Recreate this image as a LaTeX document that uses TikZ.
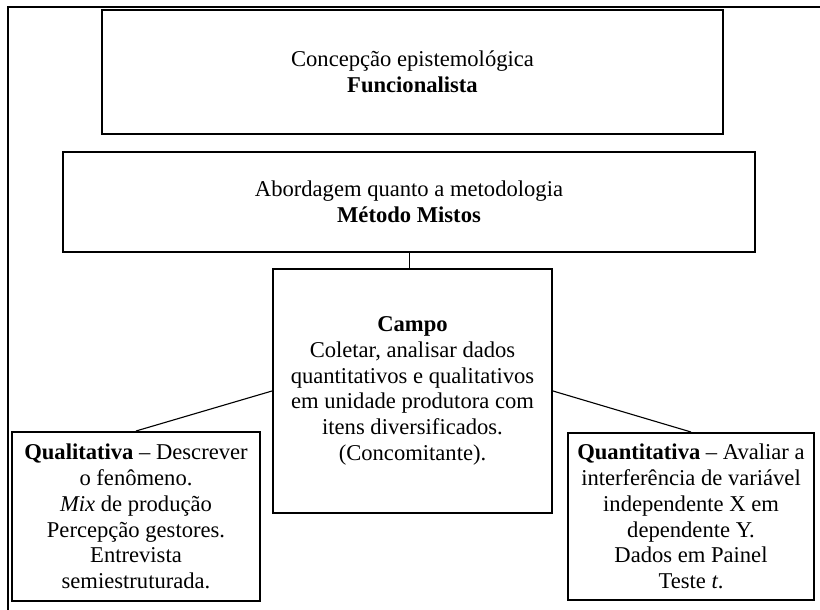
\documentclass[tikz,border=0pt]{standalone}
\usepackage{fontspec}
\setmainfont{Liberation Serif}
\tikzset{
  box/.style={draw=black, line width=1.1pt, rectangle, inner sep=0pt, align=center,
    font=\fontsize{12.2pt}{13.9pt}\selectfont},
  link/.style={draw=black, line width=0.6pt},
  frame/.style={draw=black, line width=1.4pt}
}
\begin{document}
\begin{tikzpicture}[x=0.54pt, y=-0.54pt]
\useasboundingbox (0,0) rectangle (820,609);

% page frame (top and left rules)
\coordinate (ftl) at (8,7);
\coordinate (ftr) at (821,7);
\coordinate (fbl) at (8,610);
\draw[frame] (ftr) -- (ftl) -- (fbl);

% boxes
\node[box, minimum width=621*0.54pt, minimum height=124*0.54pt] (conc) at (412.5,72)
  {Concepção epistemológica\\\textbf{Funcionalista}};

\node[box, minimum width=692*0.54pt, minimum height=100*0.54pt] (met) at (409,202)
  {Abordagem quanto a metodologia\\\textbf{Método Mistos}};

\node[box, minimum width=279*0.54pt, minimum height=244*0.54pt] (campo) at (412.5,391)
  {\textbf{Campo}\\Coletar, analisar dados\\quantitativos e qualitativos\\em unidade produtora com\\itens diversificados.\\(Concomitante).};

\node[box, minimum width=248*0.54pt, minimum height=169*0.54pt] (qual) at (136,516.5)
  {\textbf{Qualitativa} -- Descrever\\o fenômeno.\\\textit{Mix} de produção\\Percepção gestores.\\Entrevista\\semiestruturada.};

\node[box, minimum width=246*0.54pt, minimum height=167*0.54pt] (quant) at (691,516.5)
  {\textbf{Quantitativa} -- Avaliar a\\interferência de variável\\independente X em\\dependente Y.\\Dados em Painel\\Teste \textit{t}.};

% connectors
\draw[link] (met.south -| campo.north) ++(-3,0) coordinate (mb) -- (mb |- campo.north);
\draw[link] (campo.west) -- (qual.north);
\draw[link] (campo.east) -- (quant.north);
\end{tikzpicture}
\end{document}
